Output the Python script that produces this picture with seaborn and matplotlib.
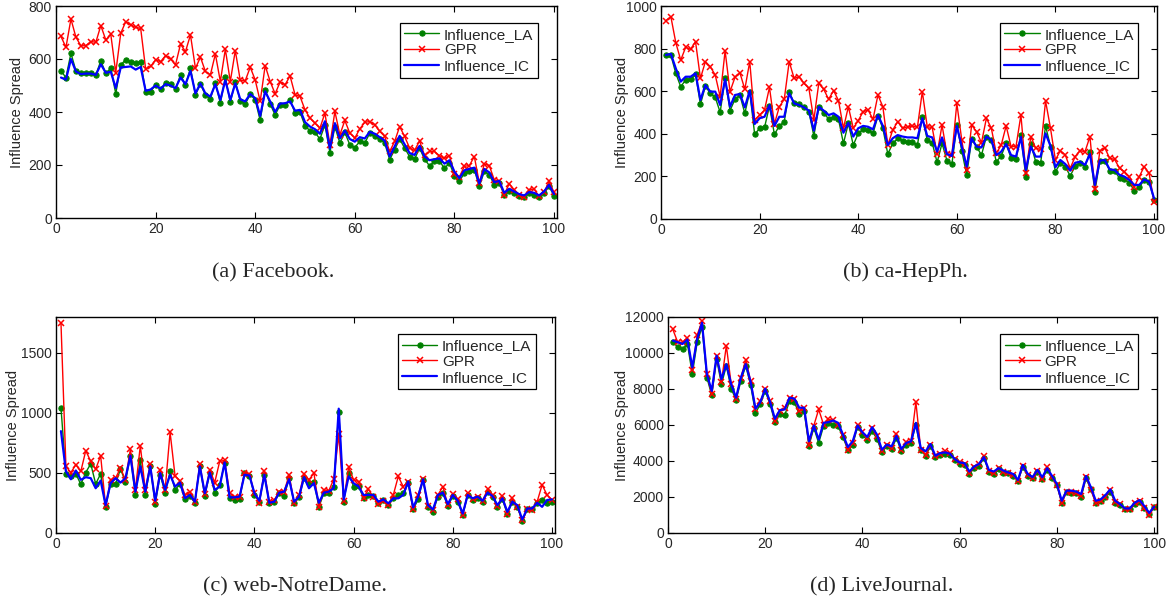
import matplotlib
matplotlib.use('Agg')
import matplotlib.pyplot as plt
import numpy as np
import pandas as pd
import seaborn as sns


#%% DATOS

rondas = list(range(1, 101))

## (a) Facebook ----
fb_la = [555, 530, 622, 555, 546, 549, 549, 540, 593, 546, 565, 469, 578, 597, 590, 584, 588, 477, 477, 503,
         486, 511, 506, 486, 540, 503, 565, 465, 505, 465, 450, 511, 433, 531, 436, 515, 442, 430, 467, 446,
         368, 484, 430, 389, 427, 427, 446, 396, 399, 348, 329, 323, 298, 352, 247, 345, 283, 323, 276, 266,
         289, 283, 320, 308, 298, 283, 220, 258, 298, 264, 232, 222, 264, 222, 197, 214, 214, 188, 207, 160,
         138, 170, 176, 182, 119, 176, 163, 126, 132, 88, 101, 94, 82, 79, 94, 88, 79, 94, 119, 84]
fb_gpr = [685, 644, 751, 682, 650, 650, 666, 663, 726, 672, 693, 549, 697, 741, 729, 719, 716, 562, 572, 597,
          590, 613, 600, 578, 656, 628, 691, 565, 607, 553, 540, 619, 515, 637, 515, 632, 519, 518, 569, 521,
          440, 575, 515, 469, 513, 503, 536, 465, 459, 408, 377, 358, 339, 396, 276, 402, 314, 368, 320, 302,
          336, 361, 364, 352, 327, 308, 251, 289, 345, 308, 264, 255, 291, 236, 251, 251, 235, 225, 235, 167,
          155, 195, 198, 232, 132, 204, 198, 144, 138, 88, 129, 107, 88, 79, 107, 109, 82, 97, 138, 97]
fb_ic = [530, 522, 600, 553, 543, 545, 545, 540, 580, 548, 552, 490, 568, 570, 572, 560, 570, 480, 485, 500,
         488, 505, 500, 490, 530, 505, 555, 470, 508, 470, 458, 505, 445, 520, 445, 508, 448, 440, 468, 452,
         385, 478, 440, 400, 432, 433, 440, 405, 408, 362, 345, 335, 318, 365, 262, 358, 300, 330, 298, 288,
         305, 300, 325, 318, 305, 292, 232, 270, 310, 278, 245, 238, 272, 232, 218, 222, 225, 205, 218, 175,
         150, 180, 185, 190, 130, 185, 172, 135, 140, 95, 110, 100, 90, 85, 98, 95, 85, 100, 125, 90]

## (b) ca-HepPh ----
hep_la = [770, 770, 684, 621, 653, 656, 681, 538, 624, 590, 571, 501, 660, 509, 562, 582, 496, 598, 397, 426,
          430, 531, 397, 437, 457, 598, 543, 538, 524, 504, 390, 524, 499, 469, 480, 468, 355, 449, 347, 402,
          421, 418, 402, 484, 426, 305, 355, 378, 368, 360, 363, 347, 480, 371, 358, 266, 355, 274, 257, 441,
          321, 207, 374, 340, 300, 387, 371, 269, 296, 355, 285, 280, 394, 196, 352, 269, 264, 437, 340, 222,
          261, 246, 202, 249, 264, 246, 316, 128, 274, 274, 227, 227, 191, 186, 171, 133, 149, 183, 175, 89]
hep_gpr = [931, 950, 828, 746, 806, 797, 833, 660, 739, 715, 676, 574, 790, 598, 665, 687, 609, 739, 465, 488,
           512, 618, 446, 527, 562, 739, 660, 668, 637, 613, 465, 637, 609, 562, 603, 556, 426, 527, 426, 462,
           504, 512, 468, 582, 527, 347, 418, 457, 426, 433, 437, 430, 598, 433, 430, 305, 441, 305, 300, 543,
           371, 230, 441, 410, 358, 473, 426, 308, 347, 437, 340, 340, 488, 218, 387, 332, 327, 554, 426, 277,
           321, 300, 238, 293, 321, 316, 387, 139, 319, 335, 285, 280, 238, 222, 199, 152, 199, 246, 214, 81]
hep_ic = [770, 775, 707, 645, 668, 668, 684, 559, 629, 598, 598, 535, 656, 527, 582, 587, 524, 603, 446, 473,
          480, 535, 437, 480, 480, 590, 543, 535, 524, 509, 415, 527, 509, 488, 496, 480, 405, 452, 387, 426,
          437, 433, 421, 488, 437, 347, 379, 394, 387, 383, 383, 379, 473, 390, 383, 316, 383, 305, 296, 437,
          340, 246, 379, 340, 336, 387, 371, 300, 316, 352, 300, 293, 385, 230, 340, 293, 293, 402, 343, 243,
          277, 258, 227, 264, 269, 254, 305, 160, 274, 277, 233, 230, 207, 199, 183, 160, 160, 186, 175, 97]

## (c) web-NotreDame ----
nd_la = [1045, 493, 471, 493, 406, 504, 577, 409, 493, 218, 409, 409, 532, 429, 644, 317, 605, 317, 555, 241,
         485, 336, 513, 359, 409, 280, 308, 252, 555, 308, 499, 336, 401, 583, 289, 275, 280, 499, 479, 317,
         261, 485, 247, 255, 331, 308, 457, 247, 297, 457, 415, 429, 218, 331, 336, 387, 1010, 261, 499, 387,
         392, 289, 317, 308, 252, 275, 232, 289, 317, 331, 415, 196, 280, 443, 213, 176, 303, 331, 224, 308,
         261, 148, 317, 275, 289, 261, 345, 303, 218, 280, 157, 261, 218, 101, 196, 196, 247, 275, 252, 261]
nd_gpr = [1753, 555, 504, 569, 513, 686, 597, 532, 644, 224, 443, 457, 541, 443, 700, 359, 728, 359, 574, 261,
          527, 359, 840, 476, 434, 317, 345, 261, 577, 322, 527, 420, 597, 605, 336, 297, 297, 504, 490, 331,
          252, 513, 261, 275, 345, 345, 485, 252, 317, 493, 443, 499, 218, 359, 353, 448, 821, 269, 549, 443,
          429, 294, 364, 297, 241, 269, 232, 317, 471, 387, 429, 196, 317, 448, 224, 190, 317, 387, 232, 322,
          280, 148, 336, 280, 303, 269, 364, 317, 224, 308, 162, 289, 218, 106, 196, 190, 261, 401, 317, 275]
nd_ic = [849, 513, 448, 521, 443, 465, 457, 373, 437, 232, 415, 457, 420, 457, 644, 345, 555, 345, 555, 269,
         499, 359, 485, 387, 420, 289, 317, 261, 555, 331, 504, 359, 387, 588, 297, 297, 303, 485, 479, 331,
         269, 485, 252, 261, 336, 345, 448, 261, 303, 465, 373, 415, 252, 336, 345, 373, 1036, 280, 471, 415,
         387, 317, 317, 317, 261, 280, 247, 289, 289, 317, 429, 213, 303, 448, 232, 196, 317, 336, 241, 317,
         269, 162, 317, 289, 303, 269, 336, 308, 232, 289, 176, 261, 232, 112, 204, 204, 252, 218, 275, 280]

## (d) LiveJournal ----
lj_la = [10634, 10317, 10224, 10504, 8825, 10597, 11437, 8638, 7649, 9664, 8265, 9291, 8022, 7388, 8451,
         9291, 8209, 6679, 7146, 7892, 7146, 6157, 6586, 6530, 7332, 7276, 6586, 6772, 4851, 5840,
         5000, 5933, 6119, 6026, 5933, 5317, 4627, 4907, 5896, 5466, 5149, 5653, 5224, 4478, 4813,
         4664, 5280, 4534, 4907, 5000, 6026, 4590, 4291, 4813, 4216, 4347, 4403, 4347, 4067, 3843,
         3787, 3284, 3601, 3731, 4160, 3414, 3284, 3545, 3358, 3321, 3190, 2910, 3657, 3172, 3041,
         3414, 2985, 3507, 3041, 2668, 1679, 2295, 2239, 2201, 2015, 3041, 2425, 1679, 1791, 1978,
         2295, 1679, 1549, 1306, 1306, 1604, 1735, 1362, 1045, 1418]
lj_gpr = [11306, 10597, 10597, 10821, 9049, 11007, 11754, 8825, 7705, 9851, 8396, 10410, 8265, 7463, 8638,
          9627, 8451, 6903, 7332, 7985, 7332, 6213, 6772, 6959, 7519, 7463, 6772, 6959, 4907, 5970,
          6866, 6026, 6306, 6269, 6026, 5466, 4627, 5000, 6026, 5597, 5280, 5840, 5373, 4534, 4907,
          4720, 5522, 4627, 5037, 5093, 7276, 4627, 4347, 4907, 4254, 4403, 4534, 4440, 4104, 3918,
          3843, 3321, 3694, 3843, 4291, 3451, 3321, 3601, 3414, 3358, 3228, 2910, 3731, 3228, 3041,
          3451, 2985, 3657, 3097, 2668, 1679, 2295, 2295, 2239, 2052, 3134, 2388, 1679, 1791, 2015,
          2388, 1735, 1604, 1325, 1306, 1642, 1772, 1362, 989, 1455]
lj_ic = [10690, 10597, 10504, 10746, 9198, 10784, 11679, 8825, 7892, 9851, 8545, 9384, 8265, 7519, 8638,
         9384, 8396, 6903, 7276, 8022, 7276, 6343, 6828, 6866, 7519, 7463, 6959, 6959, 5093, 5970,
         5187, 6119, 6157, 6250, 6119, 5466, 4776, 5093, 5970, 5597, 5336, 5877, 5466, 4627, 4907,
         4813, 5400, 4664, 5000, 5093, 6119, 4720, 4534, 4944, 4291, 4440, 4478, 4403, 4104, 3918,
         3881, 3414, 3694, 3843, 4216, 3507, 3414, 3601, 3470, 3358, 3284, 2948, 3787, 3284, 3097,
         3507, 3097, 3601, 3172, 2724, 1791, 2351, 2351, 2295, 2164, 3172, 2537, 1791, 1866, 2108,
         2425, 1791, 1604, 1362, 1362, 1679, 1828, 1493, 1119, 1455]

paneles = [("(a) Facebook.", fb_la, fb_gpr, fb_ic, [0, 800], [0, 200, 400, 600, 800]),
           ("(b) ca-HepPh.", hep_la, hep_gpr, hep_ic, [0, 1000], [0, 200, 400, 600, 800, 1000]),
           ("(c) web-NotreDame.", nd_la, nd_gpr, nd_ic, [0, 1800], [0, 500, 1000, 1500]),
           ("(d) LiveJournal.", lj_la, lj_gpr, lj_ic, [0, 12000], [0, 2000, 4000, 6000, 8000, 10000, 12000])]

## posiciones de los ejes en pixeles (izq, der, arriba, abajo) ----
W, H = 1175, 601
cajas = [(56, 557, 6, 218), (661, 1157, 6, 219), (56, 555, 317, 533), (668, 1157, 317, 533)]
ylab_x = [-0.064, -0.065, -0.072, -0.080]
caption_xy = [(273, 277), (905, 277), (295, 591), (882, 591)]


#%% GRAFICO

sns.set_style('ticks')
plt.rcParams['font.family'] = ['Liberation Sans', 'DejaVu Sans']

fig = plt.figure(figsize=(W / 100, H / 100), dpi=100)

for k in range(4):
    titulo, la, gpr, ic, ylim, yticks = paneles[k]
    x0, x1, y0, y1 = cajas[k]
    ax = fig.add_axes([x0 / W, 1 - y1 / H, (x1 - x0) / W, (y1 - y0) / H])

    datos = pd.DataFrame({'ronda': rondas, 'LA': la, 'GPR': gpr, 'IC': ic})

    sns.lineplot(data=datos, x='ronda', y='LA', color='green', marker='o', markersize=3.8,
                 markeredgecolor='green', linewidth=1.0, label='Influence_LA', ax=ax)
    sns.lineplot(data=datos, x='ronda', y='GPR', color='red', marker='x', markersize=5,
                 markeredgecolor='red', markeredgewidth=1.1, linewidth=1.0, label='GPR', ax=ax)
    sns.lineplot(data=datos, x='ronda', y='IC', color='blue', linewidth=1.6,
                 label='Influence_IC', ax=ax)

    ax.set_xlim(0, 100.6)
    ax.set_ylim(ylim)
    ax.set_xticks([0, 20, 40, 60, 80, 100])
    ax.set_yticks(yticks)
    ax.set_xlabel('')
    ax.set_ylabel('Influence Spread', fontsize=10.5)
    ax.yaxis.set_label_coords(ylab_x[k], 0.5)
    ax.tick_params(direction='in', top=True, right=True, length=4, width=0.8,
                   labelsize=10, pad=3, color='black')
    for s in ax.spines.values():
        s.set_linewidth(1.0)
        s.set_color('black')

    leg = ax.legend(loc='upper right', bbox_to_anchor=(0.962, 0.92), borderaxespad=0,
                    fontsize=11, frameon=True, fancybox=False, framealpha=1,
                    edgecolor='black', handlelength=2.3, handletextpad=0.3,
                    labelspacing=0.12, borderpad=0.3)
    leg.get_frame().set_linewidth(0.9)

    cx, cy = caption_xy[k]
    fig.text(cx / W, 1 - cy / H, titulo, ha='center', va='baseline',
             family=['Liberation Serif', 'DejaVu Serif'], fontsize=16)

fig.savefig('out.png', dpi=100)
